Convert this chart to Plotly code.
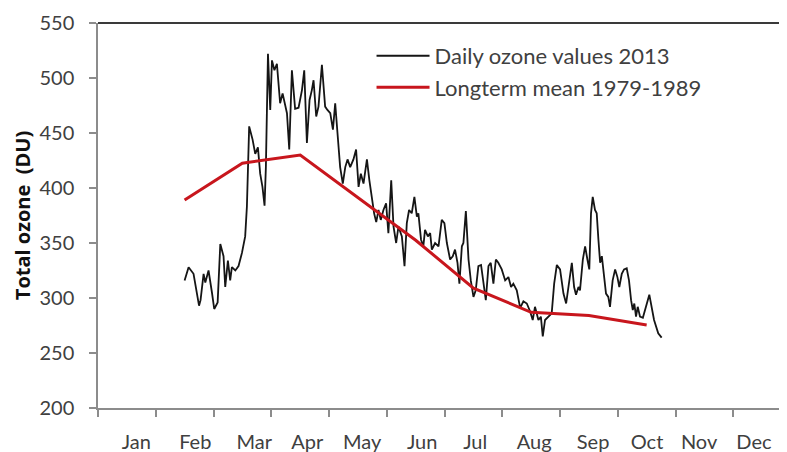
import plotly.graph_objects as go

# ---- data (x in day-of-year, 2013) ----
daily_day = [45.6, 47.7, 50.3, 52.1, 53.2, 54.0, 55.6, 56.5, 58.2, 60.0, 61.2, 63.0,
             64.4, 66.1, 67.0, 68.4, 69.6, 70.5, 72.3, 74.0, 75.8, 77.5, 78.4, 79.6,
             81.4, 82.8, 84.2, 85.4, 86.6, 87.7, 88.4, 89.5, 90.7, 91.6, 92.9, 94.2,
             95.9, 97.2, 99.5, 100.7, 102.1, 103.8, 105.6, 107.4, 108.6, 110.0, 111.4,
             112.6, 113.5, 114.9, 116.1, 117.9, 119.6, 120.8, 122.3, 123.7, 124.9,
             126.1, 127.5, 128.9, 130.2, 131.4, 132.8, 134.5, 135.9, 137.2, 138.4,
             139.8, 141.6, 142.9, 144.2, 145.4, 146.5, 147.7, 148.9, 150.3, 151.7,
             152.9, 154.4, 155.6, 157.0, 158.2, 160.0, 161.4, 162.6, 163.8, 165.2,
             166.6, 167.9, 168.7, 170.1, 171.3, 172.2, 173.7, 174.9, 175.8, 177.5,
             179.3, 181.0, 182.4, 183.7, 185.4, 186.8, 188.0, 189.3, 190.3, 191.6,
             192.4, 193.7, 195.1, 196.3, 197.7, 198.9, 200.3, 201.7, 202.9, 204.2,
             205.6, 206.8, 208.2, 209.5, 210.8, 212.6, 214.4, 216.1, 217.5, 218.7,
             220.5, 222.3, 224.0, 225.8, 227.5, 228.9, 230.1, 231.9, 233.2, 234.2,
             235.4, 237.2, 238.9, 240.2, 241.6, 243.3, 245.1, 246.5, 247.7, 249.5,
             250.7, 251.7, 253.0, 253.8, 255.3, 256.5, 257.7, 258.7, 259.6, 260.5,
             261.7, 262.6, 263.5, 264.4, 265.3, 266.1, 267.5, 268.7, 269.6, 271.0,
             272.3, 273.5, 274.5, 275.8, 277.0, 278.4, 279.6, 280.7, 281.6, 282.4,
             283.3, 284.2, 285.4, 286.9, 288.7, 290.3, 292.8, 295.0, 296.8]
daily_ozone = [316, 328, 322, 304, 293, 298, 322, 314, 325, 305, 290, 296,
               349, 338, 310, 334, 316, 328, 325, 329, 341, 356, 383, 456,
               444, 431, 437, 413, 401, 384, 419, 522, 471, 516, 507, 513,
               477, 486, 468, 435, 507, 472, 473, 489, 507, 441, 480,
               489, 498, 465, 474, 512, 474, 471, 468, 453, 477,
               450, 419, 404, 419, 426, 419, 426, 435, 401, 413,
               404, 426, 407, 389, 377, 369, 380, 371, 380, 386,
               359, 407, 365, 350, 365, 356, 329, 368, 380, 377,
               392, 374, 377, 353, 347, 362, 356, 359, 344, 350,
               347, 371, 368, 350, 335, 338, 344, 332, 313, 347,
               350, 379, 335, 316, 301, 307, 329, 330, 313, 298,
               329, 332, 313, 335, 332, 326, 316, 319, 310, 313,
               307, 291, 297, 295, 288, 280, 292, 280, 283, 265,
               280, 283, 286, 313, 330, 326, 304, 295, 310, 332,
               310, 303, 310, 307, 335, 347, 335, 326, 377, 392,
               380, 377, 353, 332, 338, 326, 304, 301, 292, 316,
               326, 319, 310, 322, 326, 327, 316, 298, 289, 295,
               283, 292, 283, 282, 292, 303, 280, 268, 264]

mean_day = [45.6, 76.0, 106.5, 136.9, 167.3, 197.7, 228.1, 258.5, 288.9]
mean_ozone = [389, 422.5, 430, 391, 352.5, 309, 287, 284, 275.5]

month_labels = ["Jan", "Feb", "Mar", "Apr", "May", "Jun",
                "Jul", "Aug", "Sep", "Oct", "Nov", "Dec"]
month_label_day = [20.2, 51.2, 82.3, 110.2, 139.1, 170.7,
                   198.6, 229.7, 260.7, 289.1, 316.5, 345.4]
month_start_day = [round(i * 365 / 12, 2) for i in range(13)]
y_ticks = [200, 250, 300, 350, 400, 450, 500, 550]

FONT = "Lato"
TXT = "#404040"
AXIS = "#8c8c8c"
XR = [0, 362.8]

fig = go.Figure()
fig.add_trace(go.Scatter(
    x=daily_day, y=daily_ozone, mode="lines", name="Daily ozone values 2013",
    line=dict(color="#151515", width=1.8), legendgroup="a", xaxis="x", yaxis="y"))
fig.add_trace(go.Scatter(
    x=mean_day, y=mean_ozone, mode="lines", name="Longterm mean 1979-1989",
    line=dict(color="#c8161d", width=3), legendgroup="b", xaxis="x2", yaxis="y"))

# the page body adds an 8px offset, so the figure is 8px smaller and shifted
fig.update_layout(
    width=779, height=444,
    margin=dict(l=90, r=0, t=15, b=44, autoexpand=False),
    paper_bgcolor="white", plot_bgcolor="white",
    font=dict(family=FONT, size=20, color=TXT),
    showlegend=True,
    legend=dict(x=0.397, y=0.969, xanchor="left", yanchor="top",
                bgcolor="rgba(0,0,0,0)", font=dict(family=FONT, size=22, color=TXT),
                itemwidth=53, tracegroupgap=0),
    xaxis=dict(range=XR, tickvals=month_start_day, showticklabels=False,
               ticks="outside", ticklen=7, tickcolor=AXIS, tickwidth=1.5,
               showline=True, linecolor=AXIS, linewidth=1.5,
               showgrid=False, zeroline=False, automargin=False),
    xaxis2=dict(range=XR, overlaying="x", matches="x", side="bottom", anchor="y",
                tickvals=month_label_day, ticktext=month_labels, ticks="",
                showline=False, showgrid=False, zeroline=False, automargin=False,
                ticklabelstandoff=20,
                tickfont=dict(family=FONT, size=20, color=TXT)),
    yaxis=dict(range=[200, 550], tickvals=y_ticks, ticks="outside", ticklen=7,
               tickcolor=AXIS, tickwidth=1.5, showline=True, linecolor=AXIS,
               linewidth=1.5, showgrid=False, zeroline=False, automargin=False,
               ticklabelstandoff=11,
               tickfont=dict(family=FONT, size=20, color=TXT),
               title=dict(text="Total ozone  (DU)", standoff=3,
                          font=dict(family="Open Sans", size=20, color="#111111",
                                    weight="bold"))),
    shapes=[dict(type="line", xref="paper", yref="paper", x0=0, x1=1, y0=1, y1=1,
                 line=dict(color="#3a3a3a", width=2.2))],
)

fig.write_html("out.html")
